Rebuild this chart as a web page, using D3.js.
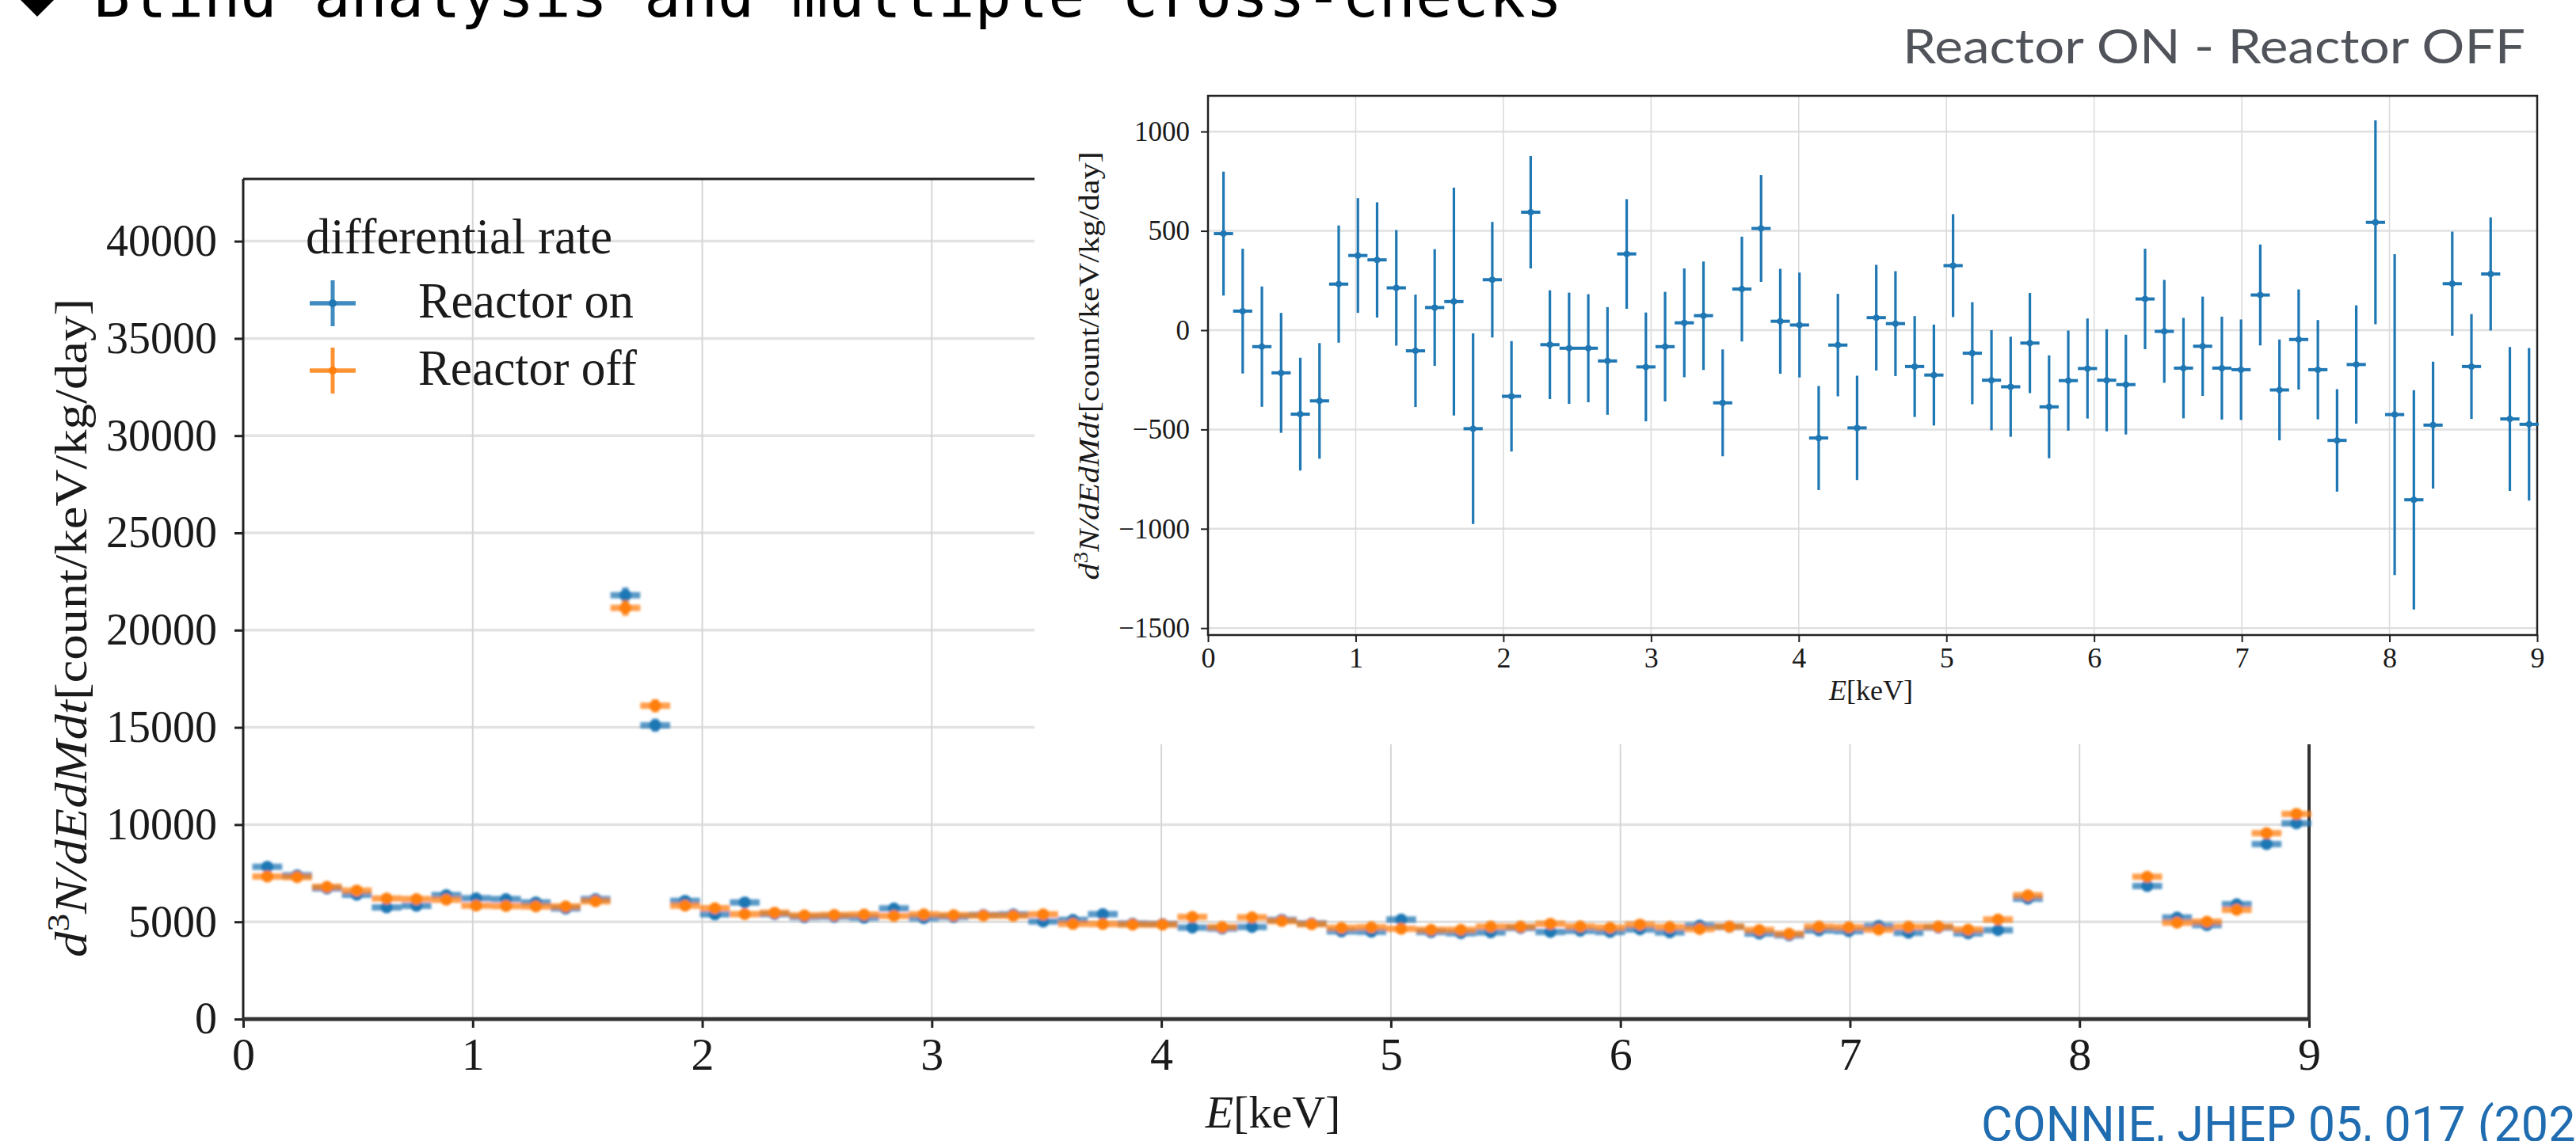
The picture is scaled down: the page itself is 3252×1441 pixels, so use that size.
<!DOCTYPE html>
<html>
<head>
<meta charset="utf-8">
<script src="https://cdn.jsdelivr.net/npm/d3@7"></script>
<style>
  html, body { margin: 0; padding: 0; background: #fff; }
  svg { display: block; }
</style>
</head>
<body>
<svg id="fig" width="3252" height="1441"></svg>
<script>
// Energy bin centres in keV (bins are 0.13 keV wide)
const energy = [0.105, 0.235, 0.365, 0.495, 0.625, 0.755, 0.885, 1.015, 1.145, 1.275,
  1.405, 1.535, 1.665, 1.795, 1.925, 2.055, 2.185, 2.315, 2.445, 2.575,
  2.705, 2.835, 2.965, 3.095, 3.225, 3.355, 3.485, 3.615, 3.745, 3.875,
  4.005, 4.135, 4.265, 4.395, 4.525, 4.655, 4.785, 4.915, 5.045, 5.175,
  5.305, 5.435, 5.565, 5.695, 5.825, 5.955, 6.085, 6.215, 6.345, 6.475,
  6.605, 6.735, 6.865, 6.995, 7.125, 7.255, 7.385, 7.515, 7.645, 7.775,
  7.905, 8.035, 8.165, 8.295, 8.425, 8.555, 8.685, 8.815, 8.945];
const binHalfWidth = 0.065;

// Differential rate, reactor on (count/keV/kg/day); null = off-scale copper peak bins
const rateOn = [7831, 7390, 6717, 6395, 5740, 5820, 6370, 6210, 6170, 6000,
  5686, 6170, 21790, 15110, 6080, 5380, 6000, 5400, 5240, 5260,
  5215, 5690, 5195, 5257, 5357, 5383, 5014, 5100, 5400, 4905,
  4886, 4707, 4655, 4738, 5103, 4913, 4507, 4494, 5120, 4475,
  4420, 4460, 4685, 4480, 4540, 4480, 4610, 4460, 4800, 4745,
  4400, 4310, 4560, 4520, 4780, 4440, 4703, 4410, 4570, 6190,
  null, null, null, 6840, 5220, 4830, 5900, 9000, 10070];

// Differential rate, reactor off
const rateOff = [7334, 7300, 6800, 6610, 6200, 6170, 6140, 5835, 5816, 5790,
  5790, 6056, 21140, 16110, 5830, 5700, 5400, 5470, 5330, 5350,
  5370, 5306, 5380, 5340, 5320, 5310, 5380, 4893, 4888, 4860,
  4860, 5250, 4730, 5230, 5040, 4880, 4690, 4720, 4640, 4590,
  4590, 4750, 4750, 4900, 4760, 4700, 4860, 4730, 4630, 4750,
  4580, 4390, 4750, 4720, 4600, 4740, 4750, 4600, 5120, 6360,
  null, null, null, 7320, 4960, 5010, 5620, 9560, 10550];

// Statistical uncertainty on each rate
const rateErr = [221, 222, 214, 214, 201, 206, 209, 204, 205, 206,
  200, 208, 406, 339, 206, 197, 200, 194, 198, 192,
  192, 195, 194, 195, 194, 193, 190, 187, 190, 187,
  187, 185, 182, 186, 188, 187, 180, 180, 183, 182,
  178, 178, 178, 183, 178, 178, 182, 177, 179, 183,
  179, 177, 183, 179, 180, 180, 178, 177, 182, 211,
  363, 571, 390, 226, 185, 187, 202, 256, 272];

// Reactor ON - Reactor OFF
const diffOnOff = [486, 96, -83, -215, -423, -356, 232, 376, 354, 213,
  -104, 114, 144, -496, 254, -333, 594, -73, -91, -91,
  -155, 384, -185, -83, 37, 73, -366, 207, 512, 45,
  26, -543, -75, -492, 63, 33, -183, -226, 325, -116,
  -252, -285, -65, -386, -254, -193, -252, -274, 157, -6,
  -191, -81, -191, -199, 177, -301, -47, -199, -555, -173,
  543, -425, -854, -478, 234, -183, 283, -447, -474];
const diffErr = [312, 314, 303, 302, 284, 291, 295, 289, 290, 291,
  283, 294, 574, 480, 291, 278, 283, 274, 280, 272,
  271, 276, 274, 276, 274, 273, 269, 264, 269, 264,
  264, 262, 258, 263, 266, 264, 254, 254, 259, 257,
  252, 252, 252, 259, 252, 252, 257, 251, 253, 259,
  253, 250, 259, 253, 254, 254, 252, 250, 258, 298,
  513, 808, 552, 319, 262, 264, 285, 362, 384];

const energyTicks = [0, 1, 2, 3, 4, 5, 6, 7, 8, 9];
const rateTicks = [0, 5000, 10000, 15000, 20000, 25000, 30000, 35000, 40000];
const diffTicks = [-1500, -1000, -500, 0, 500, 1000];
const seriesNames = ["Reactor on", "Reactor off"];
const legendTitle = "differential rate";
const slideTitle = "Blind analysis and multiple cross-checks";
const insetTitle = "Reactor ON - Reactor OFF";
const citation = "CONNIE, JHEP 05, 017 (2022)";

const W = 3252, H = 1441;
const blue = "#1f77b4", orange = "#ff7f0e";
const serif = "'Liberation Serif', 'DejaVu Serif', serif";
const ink = "#1a1a1a";

const svg = d3.select("#fig");
svg.append("rect").attr("width", W).attr("height", H).attr("fill", "#fff");

const defs = svg.append("defs");
defs.append("filter").attr("id", "soft")
  .attr("x", "-5%").attr("y", "-5%").attr("width", "110%").attr("height", "110%")
  .append("feGaussianBlur").attr("stdDeviation", 1.5);

// ---------- slide heading ----------
svg.append("path").attr("d", "M25,-1L47,-23L69,-1L47,21Z").attr("fill", "#000");
svg.append("text")
  .attr("x", 118).attr("y", 21)
  .attr("font-family", "'DejaVu Sans Mono', monospace")
  .attr("font-size", 77).attr("fill", "#000")
  .text(slideTitle);

// helper: axis-label text with a math part
function rateLabel(t, size) {
  t.append("tspan").attr("font-style", "italic").text("d");
  t.append("tspan").attr("font-size", size * 0.7).attr("dy", -size * 0.38).text("3");
  t.append("tspan").attr("font-style", "italic").attr("dy", size * 0.38).text("N/dEdMdt");
  t.append("tspan").text("[count/keV/kg/day]");
}
function energyLabel(t) {
  t.append("tspan").attr("font-style", "italic").text("E");
  t.append("tspan").text("[keV]");
}

// ---------- main panel: differential rate ----------
const mx = d3.scaleLinear().domain([0, 9]).range([307, 2915]);
const my = d3.scaleLinear().domain([0, 43200]).range([1287, 226]);
const main = svg.append("g");

main.append("g").selectAll("line").data(rateTicks).join("line")
  .attr("x1", mx(0)).attr("x2", mx(9))
  .attr("y1", d => my(d)).attr("y2", d => my(d))
  .attr("stroke", "#e2e2e2").attr("stroke-width", 3.5);
main.append("g").selectAll("line").data(energyTicks.slice(1, -1)).join("line")
  .attr("x1", d => mx(d)).attr("x2", d => mx(d))
  .attr("y1", my.range()[0]).attr("y2", my.range()[1])
  .attr("stroke", "#d6d6d6").attr("stroke-width", 2);

const gmy = main.append("g").attr("transform", `translate(${mx(0)},0)`)
  .call(d3.axisLeft(my).tickValues(rateTicks).tickFormat(d3.format("d"))
    .tickSize(11).tickPadding(22).tickSizeOuter(0));
gmy.select(".domain").remove();
gmy.selectAll(".tick line").attr("stroke", "#222").attr("stroke-width", 3);
gmy.selectAll(".tick text").attr("font-family", serif).attr("font-size", 56).attr("fill", ink);

const gmx = main.append("g").attr("transform", `translate(0,${my(0)})`)
  .call(d3.axisBottom(mx).tickValues(energyTicks).tickFormat(d3.format("d"))
    .tickSize(11).tickPadding(12).tickSizeOuter(0));
gmx.select(".domain").remove();
gmx.selectAll(".tick line").attr("stroke", "#222").attr("stroke-width", 3);
gmx.selectAll(".tick text").attr("font-family", serif).attr("font-size", 58).attr("fill", ink);

// spines
main.append("line").attr("x1", mx(0)).attr("x2", mx(9)).attr("y1", my(43200)).attr("y2", my(43200))
  .attr("stroke", "#222").attr("stroke-width", 3);
main.append("line").attr("x1", mx(9)).attr("x2", mx(9)).attr("y1", my(43200)).attr("y2", my(0))
  .attr("stroke", "#333").attr("stroke-width", 4);
main.append("line").attr("x1", mx(0)).attr("x2", mx(0)).attr("y1", my(43200)).attr("y2", my(0) + 2)
  .attr("stroke", "#222").attr("stroke-width", 3);
main.append("line").attr("x1", mx(0) - 1.5).attr("x2", mx(9) + 2).attr("y1", my(0)).attr("y2", my(0))
  .attr("stroke", "#333").attr("stroke-width", 5);

// error-bar markers
const marks = main.append("g").attr("filter", "url(#soft)");
[{ vals: rateOn, color: blue }, { vals: rateOff, color: orange }].forEach(s => {
  const pts = energy.map((e, i) => ({ e, v: s.vals[i], err: rateErr[i] })).filter(d => d.v != null);
  const g = marks.append("g");
  g.selectAll("line.h").data(pts).join("line").attr("class", "h")
    .attr("x1", d => mx(d.e - binHalfWidth)).attr("x2", d => mx(d.e + binHalfWidth))
    .attr("y1", d => my(d.v)).attr("y2", d => my(d.v))
    .attr("stroke", s.color).attr("stroke-width", 8).attr("stroke-opacity", 0.75);
  g.selectAll("line.v").data(pts).join("line").attr("class", "v")
    .attr("x1", d => mx(d.e)).attr("x2", d => mx(d.e))
    .attr("y1", d => my(d.v - d.err)).attr("y2", d => my(d.v + d.err))
    .attr("stroke", s.color).attr("stroke-width", 8).attr("stroke-opacity", 0.75);
  g.selectAll("circle").data(pts).join("circle")
    .attr("cx", d => mx(d.e)).attr("cy", d => my(d.v)).attr("r", 7.5)
    .attr("fill", s.color);
});

// axis labels
const mainYLab = main.append("text")
  .attr("transform", "translate(89,793) rotate(-90)")
  .attr("text-anchor", "middle").attr("dy", "0.35em")
  .attr("font-family", serif).attr("font-size", 58).attr("fill", ink)
  .attr("textLength", 832).attr("lengthAdjust", "spacingAndGlyphs");
rateLabel(mainYLab, 58);
const mainXLab = main.append("text")
  .attr("x", 1607).attr("y", 1424).attr("text-anchor", "middle")
  .attr("font-family", serif).attr("font-size", 58).attr("fill", ink);
energyLabel(mainXLab);

// legend
const legend = main.append("g");
legend.append("text").attr("x", 386).attr("y", 320)
  .attr("font-family", serif).attr("font-size", 63).attr("fill", ink)
  .attr("textLength", 387).attr("lengthAdjust", "spacingAndGlyphs")
  .text(legendTitle);
const legRows = [{ name: seriesNames[0], color: blue, y: 383, len: 272 },
                 { name: seriesNames[1], color: orange, y: 468, len: 276 }];
legRows.forEach(r => {
  const g = legend.append("g");
  g.append("line").attr("x1", 391).attr("x2", 449).attr("y1", r.y).attr("y2", r.y)
    .attr("stroke", r.color).attr("stroke-width", 5.5).attr("stroke-opacity", 0.85);
  g.append("line").attr("x1", 420).attr("x2", 420).attr("y1", r.y - 29).attr("y2", r.y + 29)
    .attr("stroke", r.color).attr("stroke-width", 5).attr("stroke-opacity", 0.85);
  g.append("circle").attr("cx", 420).attr("cy", r.y).attr("r", 5).attr("fill", r.color);
  g.append("text").attr("x", 528).attr("y", r.y + 18)
    .attr("font-family", serif).attr("font-size", 63).attr("fill", ink)
    .attr("textLength", r.len).attr("lengthAdjust", "spacingAndGlyphs")
    .text(r.name);
});

// ---------- inset panel: on minus off ----------
svg.append("rect").attr("x", 1306).attr("y", 95).attr("width", W - 1306).attr("height", 940 - 95)
  .attr("fill", "#fff");

const ix = d3.scaleLinear().domain([0, 9]).range([1525, 3203]);
const iy = d3.scaleLinear().domain([-1535, 1180]).range([802, 121]);
const inset = svg.append("g");

inset.append("g").selectAll("line").data(diffTicks).join("line")
  .attr("x1", ix(0)).attr("x2", ix(9))
  .attr("y1", d => iy(d)).attr("y2", d => iy(d))
  .attr("stroke", "#e0e0e0").attr("stroke-width", 2.5);
inset.append("g").selectAll("line").data(energyTicks.slice(1, -1)).join("line")
  .attr("x1", d => ix(d)).attr("x2", d => ix(d))
  .attr("y1", iy.range()[0]).attr("y2", iy.range()[1])
  .attr("stroke", "#dadada").attr("stroke-width", 1.5);

const giy = inset.append("g").attr("transform", `translate(${ix(0)},0)`)
  .call(d3.axisLeft(iy).tickValues(diffTicks).tickFormat(d => d < 0 ? "\u2212" + Math.abs(d) : String(d))
    .tickSize(9).tickPadding(14).tickSizeOuter(0));
giy.select(".domain").remove();
giy.selectAll(".tick line").attr("stroke", "#222").attr("stroke-width", 2);
giy.selectAll(".tick text").attr("font-family", serif).attr("font-size", 35).attr("fill", ink);

const gix = inset.append("g").attr("transform", `translate(0,${iy(-1535)})`)
  .call(d3.axisBottom(ix).tickValues(energyTicks).tickFormat(d3.format("d"))
    .tickSize(9).tickPadding(6).tickSizeOuter(0));
gix.select(".domain").remove();
gix.selectAll(".tick line").attr("stroke", "#222").attr("stroke-width", 2);
gix.selectAll(".tick text").attr("font-family", serif).attr("font-size", 36).attr("fill", ink);

inset.append("rect").attr("x", ix(0)).attr("y", iy(1180))
  .attr("width", ix(9) - ix(0)).attr("height", iy(-1535) - iy(1180))
  .attr("fill", "none").attr("stroke", "#222").attr("stroke-width", 2.5);

const ipts = energy.map((e, i) => ({ e, v: diffOnOff[i], err: diffErr[i] }));
const im = inset.append("g");
im.selectAll("line.v").data(ipts).join("line").attr("class", "v")
  .attr("x1", d => ix(d.e)).attr("x2", d => ix(d.e))
  .attr("y1", d => iy(d.v - d.err)).attr("y2", d => iy(d.v + d.err))
  .attr("stroke", blue).attr("stroke-width", 3.2);
im.selectAll("line.h").data(ipts).join("line").attr("class", "h")
  .attr("x1", d => ix(d.e - binHalfWidth)).attr("x2", d => ix(d.e + binHalfWidth))
  .attr("y1", d => iy(d.v)).attr("y2", d => iy(d.v))
  .attr("stroke", blue).attr("stroke-width", 4);
im.selectAll("circle").data(ipts).join("circle")
  .attr("cx", d => ix(d.e)).attr("cy", d => iy(d.v)).attr("r", 4)
  .attr("fill", blue);

const insetYLab = inset.append("text")
  .attr("transform", "translate(1374,462) rotate(-90)")
  .attr("text-anchor", "middle").attr("dy", "0.35em")
  .attr("font-family", serif).attr("font-size", 36).attr("fill", ink)
  .attr("textLength", 541).attr("lengthAdjust", "spacingAndGlyphs");
rateLabel(insetYLab, 36);
const insetXLab = inset.append("text")
  .attr("x", 2362).attr("y", 884).attr("text-anchor", "middle")
  .attr("font-family", serif).attr("font-size", 36).attr("fill", ink);
energyLabel(insetXLab);

svg.append("text").attr("x", 2402).attr("y", 80)
  .attr("font-family", "Lato, 'Open Sans', sans-serif").attr("font-weight", 400)
  .attr("font-size", 60).attr("fill", "#50545a")
  .attr("textLength", 786).attr("lengthAdjust", "spacingAndGlyphs")
  .text(insetTitle);

// reference line at the foot of the slide
svg.append("text").attr("x", 2501).attr("y", 1441)
  .attr("font-family", "'Liberation Sans Narrow', 'Roboto', sans-serif")
  .attr("font-size", 62).attr("fill", "#1f6cb0")
  .attr("textLength", 806).attr("lengthAdjust", "spacingAndGlyphs")
  .text(citation);
</script>
</body>
</html>
